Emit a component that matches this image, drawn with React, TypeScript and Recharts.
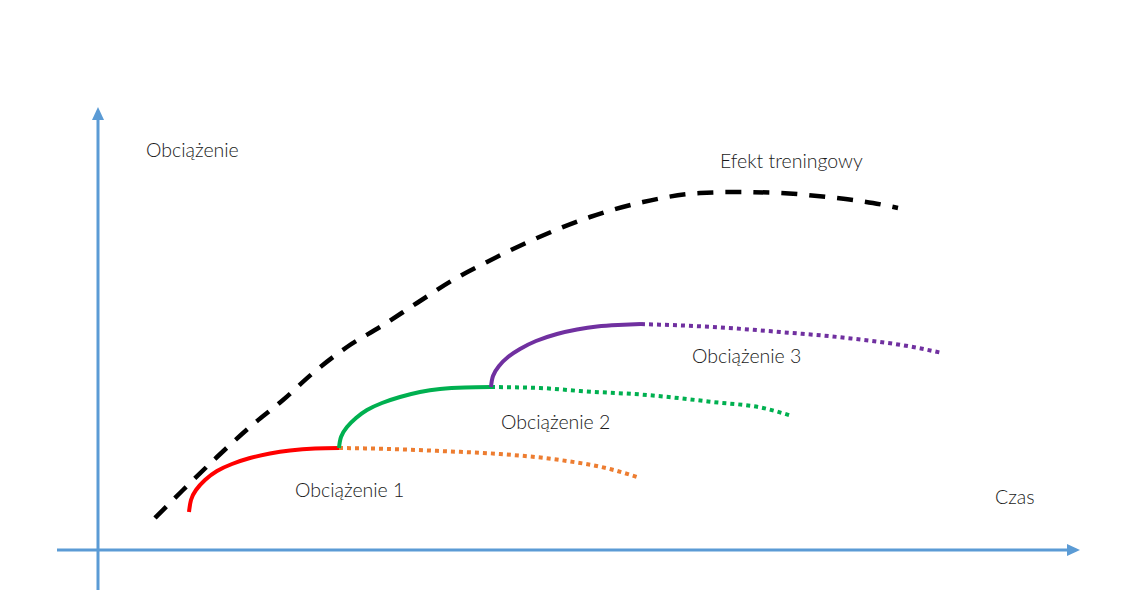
import { LineChart, Line, XAxis, YAxis, ReferenceDot } from 'recharts';

// x = czas, y = obciążenie (origin at the axes crossing)
const efektTreningowy = [
  { x: 0.57, y: 0.64 }, { x: 0.85, y: 1.2 }, { x: 1.19, y: 1.86 }, { x: 1.52, y: 2.46 },
  { x: 1.85, y: 3.0 }, { x: 2.15, y: 3.54 }, { x: 2.49, y: 4.06 }, { x: 2.82, y: 4.46 },
  { x: 3.19, y: 4.94 }, { x: 3.55, y: 5.4 }, { x: 3.89, y: 5.76 }, { x: 4.39, y: 6.24 },
  { x: 4.92, y: 6.66 }, { x: 5.45, y: 6.96 }, { x: 6.02, y: 7.14 }, { x: 6.39, y: 7.16 },
  { x: 6.82, y: 7.14 }, { x: 7.29, y: 7.06 }, { x: 7.75, y: 6.94 }, { x: 8.0, y: 6.84 },
];

const obciazenie1 = [
  { x: 0.91, y: 0.76 }, { x: 0.93, y: 1.0 }, { x: 0.98, y: 1.2 }, { x: 1.07, y: 1.4 },
  { x: 1.19, y: 1.58 }, { x: 1.34, y: 1.72 }, { x: 1.52, y: 1.84 }, { x: 1.72, y: 1.93 },
  { x: 1.92, y: 1.99 }, { x: 2.17, y: 2.03 }, { x: 2.41, y: 2.04 },
];
const obciazenie1Spadek = [
  { x: 2.41, y: 2.04 }, { x: 2.92, y: 2.02 }, { x: 3.42, y: 1.98 }, { x: 4.02, y: 1.92 },
  { x: 4.62, y: 1.8 }, { x: 5.12, y: 1.62 }, { x: 5.42, y: 1.44 },
];

const obciazenie2 = [
  { x: 2.41, y: 2.04 }, { x: 2.43, y: 2.26 }, { x: 2.49, y: 2.46 }, { x: 2.58, y: 2.64 },
  { x: 2.69, y: 2.8 }, { x: 2.84, y: 2.94 }, { x: 3.02, y: 3.06 }, { x: 3.22, y: 3.16 },
  { x: 3.42, y: 3.22 }, { x: 3.67, y: 3.25 }, { x: 3.93, y: 3.26 },
];
const obciazenie2Spadek = [
  { x: 3.93, y: 3.26 }, { x: 4.42, y: 3.24 }, { x: 4.82, y: 3.18 }, { x: 5.49, y: 3.1 },
  { x: 6.15, y: 2.96 }, { x: 6.65, y: 2.84 }, { x: 6.94, y: 2.68 },
];

const obciazenie3 = [
  { x: 3.93, y: 3.26 }, { x: 3.95, y: 3.48 }, { x: 4.01, y: 3.68 }, { x: 4.1, y: 3.86 },
  { x: 4.22, y: 4.02 }, { x: 4.38, y: 4.18 }, { x: 4.59, y: 4.32 }, { x: 4.79, y: 4.41 },
  { x: 4.99, y: 4.47 }, { x: 5.2, y: 4.5 }, { x: 5.43, y: 4.52 },
];
const obciazenie3Spadek = [
  { x: 5.43, y: 4.52 }, { x: 6.15, y: 4.46 }, { x: 6.82, y: 4.36 }, { x: 7.49, y: 4.24 },
  { x: 8.15, y: 4.06 }, { x: 8.44, y: 3.94 },
];

const osCzasu = [{ x: -0.41, y: 0 }, { x: 9.7, y: 0 }];
const osObciazenia = [{ x: 0, y: -0.8 }, { x: 0, y: 8.62 }];

const labels = [
  { text: 'Obciążenie', x: 0.48, y: 7.86 },
  { text: 'Efekt treningowy', x: 6.22, y: 7.64 },
  { text: 'Obciążenie 3', x: 5.94, y: 3.74 },
  { text: 'Obciążenie 2', x: 4.03, y: 2.42 },
  { text: 'Obciążenie 1', x: 1.97, y: 1.06 },
  { text: 'Czas', x: 8.97, y: 0.92 },
];

const AXIS_COLOR = '#5B9BD5';

const arrowHead = (dir: 'right' | 'up', last: number) => (props: any) => {
  const { cx, cy, index } = props;
  if (index !== last) return <g key={index} />;
  const pts =
    dir === 'right'
      ? `${cx - 1},${cy - 6} ${cx + 12},${cy} ${cx - 1},${cy + 6}`
      : `${cx - 6},${cy + 1} ${cx},${cy - 12} ${cx + 6},${cy + 1}`;
  return <polygon key={index} points={pts} fill={AXIS_COLOR} />;
};

const TextMark = (text: string) => (props: any) => (
  <text
    x={props.cx}
    y={props.cy}
    fill="#1a1a1a"
    fontSize={19.5}
    fontWeight={300}
    fontFamily="Lato, 'Open Sans', sans-serif"
  >
    {text}
  </text>
);

export default function App() {
  return (
    <div style={{ position: 'absolute', left: 0, top: 0 }}>
      <LineChart width={1143} height={613} margin={{ top: 0, right: 0, bottom: 0, left: 0 }}>
        <XAxis type="number" dataKey="x" domain={[-0.98, 10.45]} hide />
        <YAxis type="number" dataKey="y" domain={[-1.26, 11]} hide />

        <Line data={osCzasu} dataKey="y" type="linear" stroke={AXIS_COLOR} strokeWidth={3}
          dot={arrowHead('right', osCzasu.length - 1)} activeDot={false} isAnimationActive={false} legendType="none" />
        <Line data={osObciazenia} dataKey="y" type="linear" stroke={AXIS_COLOR} strokeWidth={3}
          dot={arrowHead('up', osObciazenia.length - 1)} activeDot={false} isAnimationActive={false} legendType="none" />

        <Line data={obciazenie1Spadek} dataKey="y" type="monotone" stroke="#ED7D31" strokeWidth={4}
          strokeDasharray="4 4" dot={false} activeDot={false} isAnimationActive={false} />
        <Line data={obciazenie2Spadek} dataKey="y" type="monotone" stroke="#00B050" strokeWidth={4}
          strokeDasharray="4 4" dot={false} activeDot={false} isAnimationActive={false} />
        <Line data={obciazenie3Spadek} dataKey="y" type="monotone" stroke="#7030A0" strokeWidth={4}
          strokeDasharray="4 4" dot={false} activeDot={false} isAnimationActive={false} />

        <Line data={obciazenie1} dataKey="y" type="natural" stroke="#FF0000" strokeWidth={4}
          dot={false} activeDot={false} isAnimationActive={false} />
        <Line data={obciazenie2} dataKey="y" type="natural" stroke="#00B050" strokeWidth={4}
          dot={false} activeDot={false} isAnimationActive={false} />
        <Line data={obciazenie3} dataKey="y" type="natural" stroke="#7030A0" strokeWidth={4}
          dot={false} activeDot={false} isAnimationActive={false} />

        <Line data={efektTreningowy} dataKey="y" type="monotone" stroke="#000000" strokeWidth={4.5}
          strokeDasharray="16 12" dot={false} activeDot={false} isAnimationActive={false} />

        {labels.map((l) => (
          <ReferenceDot key={l.text} x={l.x} y={l.y} r={0} shape={TextMark(l.text)} />
        ))}
      </LineChart>
    </div>
  );
}
